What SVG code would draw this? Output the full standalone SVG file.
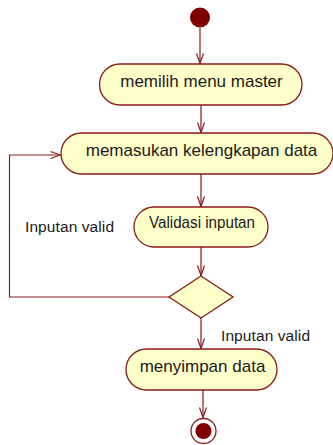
<svg xmlns="http://www.w3.org/2000/svg" width="333" height="445" viewBox="0 0 333 445">
<style>
.act{fill:#FFFFCA;stroke:#8B1A1A;stroke-width:1.3}
.t{font-family:"Liberation Sans",Arial,sans-serif;font-size:17px;fill:#1a1a1a;text-anchor:middle}
.l{font-family:"Liberation Sans",Arial,sans-serif;font-size:15.5px;fill:#1a1a1a}
.c{fill:none;stroke:#8B1A1A;stroke-width:1.2}
</style>
<defs>
<marker id="a" viewBox="-11 -5 12 10" refX="0" refY="0" markerWidth="12" markerHeight="10" markerUnits="userSpaceOnUse" orient="auto">
<path d="M-10,-3.5 L0,0 L-10,3.5" fill="none" stroke="#8B1A1A" stroke-width="1.2"/>
</marker>
</defs>
<rect width="333" height="445" fill="#fff"/>
<g id="connectors">
<line class="c" x1="200" y1="28" x2="200" y2="63.5" marker-end="url(#a)"/>
<line class="c" x1="201" y1="105" x2="201" y2="132.5" marker-end="url(#a)"/>
<line class="c" x1="201" y1="174" x2="201" y2="206.5" marker-end="url(#a)"/>
<line class="c" x1="201" y1="247" x2="201" y2="275.5" marker-end="url(#a)"/>
<polyline class="c" points="169,297 9.5,297 9.5,155 60.5,155" marker-end="url(#a)"/>
<line class="c" x1="201" y1="318" x2="201" y2="348.5" marker-end="url(#a)"/>
<line class="c" x1="203" y1="390" x2="203" y2="417.5" marker-end="url(#a)"/>
<text class="l" x="25" y="231.5" textLength="89">Inputan valid</text>
<text class="l" x="221" y="340.5" textLength="89">Inputan valid</text>
</g>
<g id="start"><circle cx="200" cy="17.5" r="10" fill="#800000"/></g>
<g id="n1"><rect class="act" x="99.5" y="64" width="202.5" height="41" rx="20.5"/><text class="t" x="201.5" y="86.5">memilih menu master</text></g>
<g id="n2"><rect class="act" x="61" y="133" width="272" height="41" rx="20.5"/><text class="t" x="201.5" y="155.5">memasukan kelengkapan data</text></g>
<g id="n3"><rect class="act" x="134" y="207" width="134" height="40" rx="20"/><text class="t" x="202" y="227.5" textLength="106" lengthAdjust="spacingAndGlyphs">Validasi inputan</text></g>
<g id="decision"><polygon class="act" points="201,276 233,297 201,318 169,297"/></g>
<g id="n4"><rect class="act" x="126" y="349" width="151" height="41" rx="20.5"/><text class="t" x="202.5" y="372">menyimpan data</text></g>
<g id="end"><circle cx="203.5" cy="431" r="12.5" fill="#fff" stroke="#8B1A1A" stroke-width="1.3"/><circle cx="203.5" cy="431" r="8" fill="#800000"/></g>
</svg>
